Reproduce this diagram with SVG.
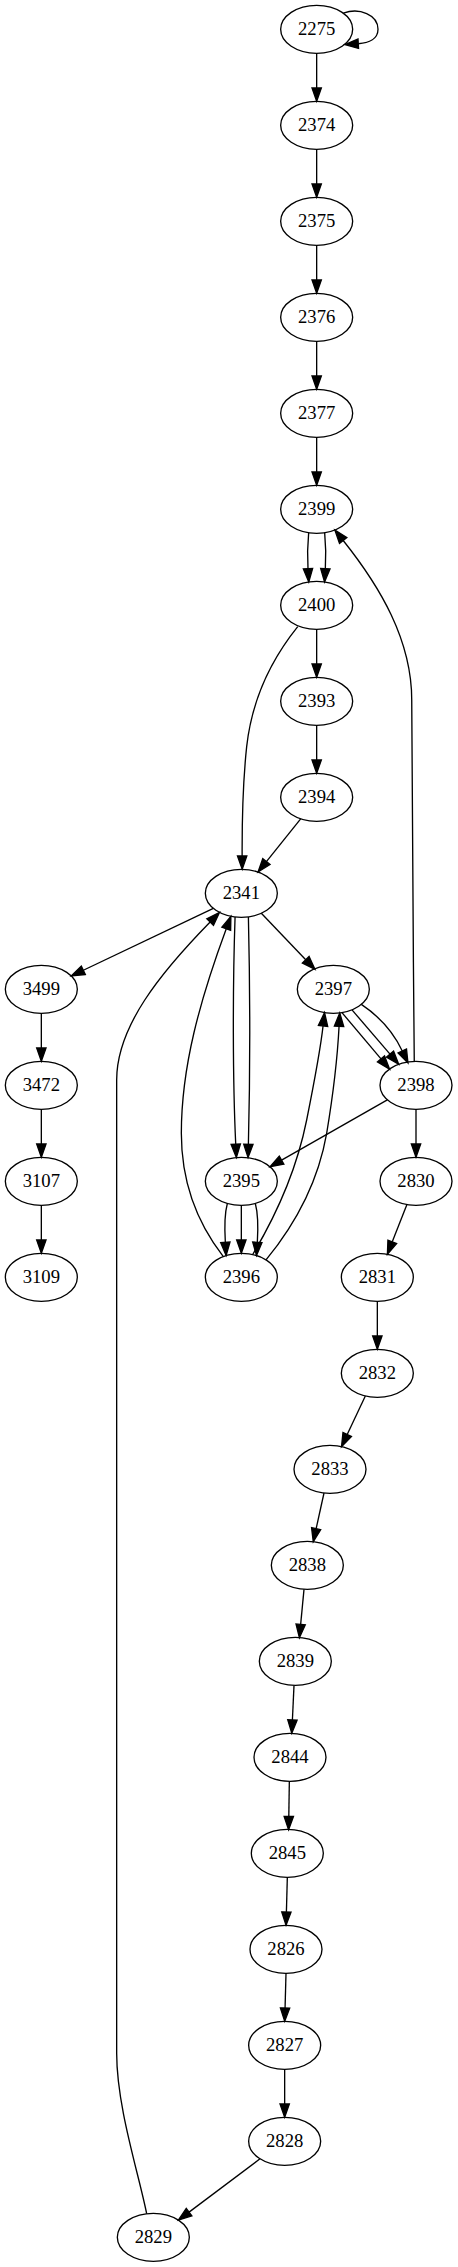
<svg xmlns="http://www.w3.org/2000/svg" width="458" height="2267" viewBox="0 0 458 2267">
<style>
.n ellipse{fill:none;stroke:#000;stroke-width:1}
.n text{font-family:"Liberation Serif","Times New Roman",serif;font-size:14px;text-anchor:middle;fill:#000}
.e path{fill:none;stroke:#000;stroke-width:1;marker-end:url(#ah)}
</style>
<defs>
<marker id="ah" markerWidth="10" markerHeight="7" refX="0" refY="3.5" orient="auto" markerUnits="userSpaceOnUse" overflow="visible">
<path d="M0,0 L10,3.5 L0,7 z" fill="#000" stroke="#000" stroke-width="1"/>
</marker>
</defs>
<rect x="0" y="0" width="458" height="2267" fill="#fff"/>
<g transform="scale(1.33333)">
<g id="edges" class="e">
<path d="M257.5,9.9 C269.5,5.5 283.5,11 283.5,22 C283.5,29 277,32.3 268.7,32.8"/>
<path d="M237.5,40 L237.5,66"/>
<path d="M237.5,112 L237.5,138"/>
<path d="M237.5,184 L237.5,210"/>
<path d="M237.5,256 L237.5,282"/>
<path d="M237.5,328 L237.5,354"/>
<path d="M231.5,399.5 C230.5,410 230.5,418 231,426.5"/>
<path d="M243.5,399.5 C244.5,410 244.5,418 244,426.5"/>
<path d="M310.7,796.3 C310,705 308.8,610 308.8,525 C308.8,480 285,440 257.4,405.4"/>
<path d="M237.5,472 L237.5,498"/>
<path d="M237.5,544 L237.5,570"/>
<path d="M223.3,470 C204,494 189,524 185,560 C182,588 181.5,616 181.6,642"/>
<path d="M225.5,614.1 L199.8,646.2"/>
<path d="M160,681.3 L62.5,727.7"/>
<path d="M196,685 L229.3,719.8"/>
<path d="M176.3,687.7 C174.5,740 174.5,810 176.8,858.2"/>
<path d="M186.3,687.7 C187.5,740 187.5,810 186.3,858.2"/>
<path d="M110,1660.3 C104,1630 87.5,1580 87.5,1540 L87.5,810 C87.5,770 120,730 157.6,691.5"/>
<path d="M167.5,942.5 C150,920 136,890 136,850 C136,800 150,750 169.7,696.6"/>
<path d="M31,760 L31,786"/>
<path d="M31,832 L31,858"/>
<path d="M31,904 L31,930"/>
<path d="M256.5,759.5 L285.75,794.2"/>
<path d="M264,757.4 L292.5,790.6"/>
<path d="M271,753.3 C284,762 295,774 301.7,788.2"/>
<path d="M189.5,940.9 C205,915 222,880 230,840 C236,810 240,790 242.3,769.4"/>
<path d="M199.5,944.9 C220,920 238,890 245,850 C250,820 253,795 254.3,769.7"/>
<path d="M170.5,902.6 C168.5,910 168.3,920 169,931.7"/>
<path d="M181,904 L181,930"/>
<path d="M191.5,902.6 C193.5,910 193.7,920 193,931.7"/>
<path d="M290.5,824.9 L211.2,870.1"/>
<path d="M312,832 L312,858"/>
<path d="M305.2,903.4 L294.2,931.4"/>
<path d="M283,976 L283,1002"/>
<path d="M274,1047 L260.4,1075.9"/>
<path d="M243,1119.75 L237.1,1146.5"/>
<path d="M228,1192 L225.5,1218.3"/>
<path d="M220.5,1264.2 L219.3,1290"/>
<path d="M217,1336.2 L216.6,1362.3"/>
<path d="M215.5,1408 L214.8,1434"/>
<path d="M214.5,1480 L213.8,1506"/>
<path d="M213.5,1552 L213.5,1578"/>
<path d="M195,1619.1 L141.8,1659.1"/>
</g>
<g id="n2275" class="n"><ellipse cx="237.5" cy="22" rx="27" ry="18"/><text x="237.5" y="26.2">2275</text></g>
<g id="n2374" class="n"><ellipse cx="237.5" cy="94" rx="27" ry="18"/><text x="237.5" y="98.2">2374</text></g>
<g id="n2375" class="n"><ellipse cx="237.5" cy="166" rx="27" ry="18"/><text x="237.5" y="170.2">2375</text></g>
<g id="n2376" class="n"><ellipse cx="237.5" cy="238" rx="27" ry="18"/><text x="237.5" y="242.2">2376</text></g>
<g id="n2377" class="n"><ellipse cx="237.5" cy="310" rx="27" ry="18"/><text x="237.5" y="314.2">2377</text></g>
<g id="n2399" class="n"><ellipse cx="237.5" cy="382" rx="27" ry="18"/><text x="237.5" y="386.2">2399</text></g>
<g id="n2400" class="n"><ellipse cx="237.5" cy="454" rx="27" ry="18"/><text x="237.5" y="458.2">2400</text></g>
<g id="n2393" class="n"><ellipse cx="237.5" cy="526" rx="27" ry="18"/><text x="237.5" y="530.2">2393</text></g>
<g id="n2394" class="n"><ellipse cx="237.5" cy="598" rx="27" ry="18"/><text x="237.5" y="602.2">2394</text></g>
<g id="n2341" class="n"><ellipse cx="181" cy="670" rx="27" ry="18"/><text x="181" y="674.2">2341</text></g>
<g id="n3499" class="n"><ellipse cx="31" cy="742" rx="27" ry="18"/><text x="31" y="746.2">3499</text></g>
<g id="n2397" class="n"><ellipse cx="250" cy="742" rx="27" ry="18"/><text x="250" y="746.2">2397</text></g>
<g id="n3472" class="n"><ellipse cx="31" cy="814" rx="27" ry="18"/><text x="31" y="818.2">3472</text></g>
<g id="n2398" class="n"><ellipse cx="312" cy="814" rx="27" ry="18"/><text x="312" y="818.2">2398</text></g>
<g id="n3107" class="n"><ellipse cx="31" cy="886" rx="27" ry="18"/><text x="31" y="890.2">3107</text></g>
<g id="n2395" class="n"><ellipse cx="181" cy="886" rx="27" ry="18"/><text x="181" y="890.2">2395</text></g>
<g id="n2830" class="n"><ellipse cx="312" cy="886" rx="27" ry="18"/><text x="312" y="890.2">2830</text></g>
<g id="n3109" class="n"><ellipse cx="31" cy="958" rx="27" ry="18"/><text x="31" y="962.2">3109</text></g>
<g id="n2396" class="n"><ellipse cx="181" cy="958" rx="27" ry="18"/><text x="181" y="962.2">2396</text></g>
<g id="n2831" class="n"><ellipse cx="283" cy="958" rx="27" ry="18"/><text x="283" y="962.2">2831</text></g>
<g id="n2832" class="n"><ellipse cx="283" cy="1030" rx="27" ry="18"/><text x="283" y="1034.2">2832</text></g>
<g id="n2833" class="n"><ellipse cx="247.5" cy="1102" rx="27" ry="18"/><text x="247.5" y="1106.2">2833</text></g>
<g id="n2838" class="n"><ellipse cx="230.5" cy="1174" rx="27" ry="18"/><text x="230.5" y="1178.2">2838</text></g>
<g id="n2839" class="n"><ellipse cx="221.5" cy="1246" rx="27" ry="18"/><text x="221.5" y="1250.2">2839</text></g>
<g id="n2844" class="n"><ellipse cx="217.5" cy="1318" rx="27" ry="18"/><text x="217.5" y="1322.2">2844</text></g>
<g id="n2845" class="n"><ellipse cx="215.5" cy="1390" rx="27" ry="18"/><text x="215.5" y="1394.2">2845</text></g>
<g id="n2826" class="n"><ellipse cx="214.5" cy="1462" rx="27" ry="18"/><text x="214.5" y="1466.2">2826</text></g>
<g id="n2827" class="n"><ellipse cx="213.5" cy="1534" rx="27" ry="18"/><text x="213.5" y="1538.2">2827</text></g>
<g id="n2828" class="n"><ellipse cx="213.5" cy="1606" rx="27" ry="18"/><text x="213.5" y="1610.2">2828</text></g>
<g id="n2829" class="n"><ellipse cx="115" cy="1678" rx="27" ry="18"/><text x="115" y="1682.2">2829</text></g>
</g>
</svg>
